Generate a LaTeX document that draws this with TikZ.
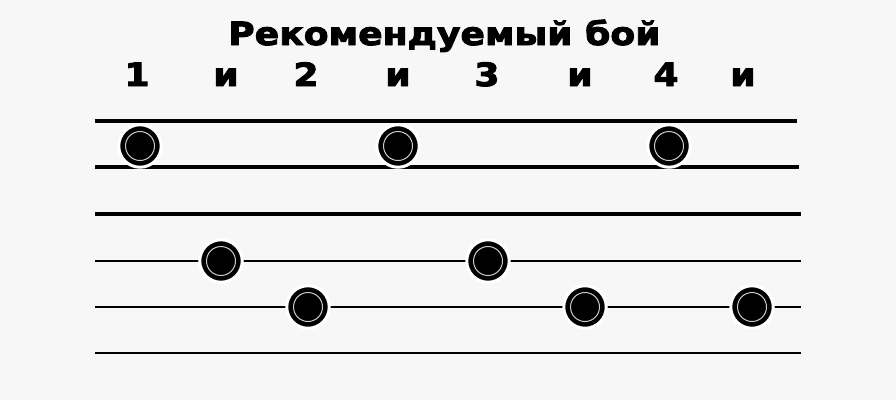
\documentclass[tikz,border=0pt]{standalone}
\usepackage{fontspec}
\setmainfont{DejaVu Sans}
\newfontfamily\heavy[FakeBold=3,FakeStretch=1.13]{DejaVu Sans Bold}
\begin{document}
\begin{tikzpicture}[x=1pt,y=-1pt,
  lbl/.style={font=\fontsize{32}{36}\selectfont\heavy, inner sep=0pt, anchor=base},
  ttl/.style={font=\fontsize{32}{36}\selectfont\heavy, inner sep=0pt, anchor=base west},
  strum/.style={circle, fill=black, draw=white, line width=3pt, minimum size=42.5pt, inner sep=0pt,
    path picture={\draw[white!80!black, line width=1pt] (path picture bounding box.center) circle (14.5pt);}},
  thick line/.style={line width=3.4pt},
  thin line/.style={line width=2.4pt}]
\fill[white!97!black] (0,0) rectangle (896,400);
\useasboundingbox (0,0) rectangle (896,400);
% title
\node[ttl] (title) at (228,45) {Рекомендуемый бой};
% count labels
\node[lbl] (c1) at (137,86) {1};
\node[lbl] (c1a) at (226,86) {и};
\node[lbl] (c2) at (306,86) {2};
\node[lbl] (c2a) at (398,86) {и};
\node[lbl] (c3) at (487,86) {3};
\node[lbl] (c3a) at (580,86) {и};
\node[lbl] (c4) at (666,86) {4};
\node[lbl] (c4a) at (743,86) {и};
% staff lines
\coordinate (l1a) at (95,121); \coordinate (l1b) at (797,121);
\coordinate (l2a) at (95,167); \coordinate (l2b) at (799,167);
\coordinate (l3a) at (95,214); \coordinate (l3b) at (801,214);
\coordinate (l4a) at (95,261); \coordinate (l4b) at (801,261);
\coordinate (l5a) at (95,307); \coordinate (l5b) at (801,307);
\coordinate (l6a) at (95,353); \coordinate (l6b) at (801,353);
\draw[thick line] (l1a) -- (l1b);
\draw[thick line] (l2a) -- (l2b);
\draw[thick line] (l3a) -- (l3b);
\draw[thin line] (l4a) -- (l4b);
\draw[line width=2.2pt] (l5a) -- (l5b);
\draw[line width=2pt] (l6a) -- (l6b);
% strums
\node[strum] (s1) at (140,146) {};
\node[strum] (s3) at (398,146) {};
\node[strum] (s4) at (669,146) {};
\node[strum] (s1a) at (221,261) {};
\node[strum] (s3a) at (488,261) {};
\node[strum] (s2) at (308,307) {};
\node[strum] (s3b) at (585,307) {};
\node[strum] (s4a) at (752,307) {};
\end{tikzpicture}
\end{document}
